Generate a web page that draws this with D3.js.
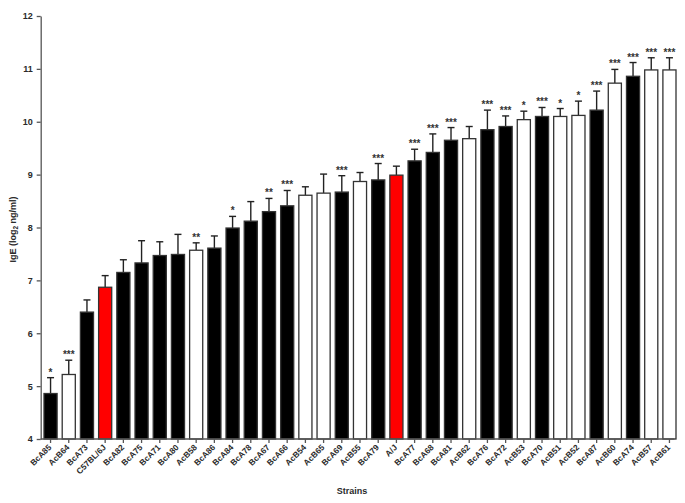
<!DOCTYPE html>
<html lang="en">
<head>
  <meta charset="UTF-8">
  <title>IgE by strain</title>
  <script src="https://d3js.org/d3.v7.min.js"></script>
  <style>
    body { margin: 0; background: #fff; font-family: "Liberation Sans", Arial, sans-serif; }
    .axis text { font-weight: bold; fill: #2a2a2a; }
    .axis line, .axis path { stroke: #555; stroke-width: 1.3px; }
  </style>
</head>
<body>
  <div id="chart"></div>
  <script>
    // strains, in plotted order
    const strains = ["BcA85", "AcB64", "BcA73", "C57BL/6J", "BcA82", "BcA75", "BcA71", "BcA80", "AcB58",
      "BcA86", "BcA84", "BcA78", "BcA67", "BcA66", "AcB54", "AcB65", "BcA69", "AcB55", "BcA79", "A/J",
      "BcA77", "BcA68", "BcA81", "AcB62", "BcA76", "BcA72", "AcB53", "BcA70", "AcB51", "AcB52", "BcA87",
      "AcB60", "BcA74", "AcB57", "AcB61"];
    // mean IgE (log2 ng/ml)
    const means = [4.86, 5.22, 6.40, 6.87, 7.15, 7.33, 7.47, 7.49, 7.57,
      7.61, 7.99, 8.12, 8.30, 8.41, 8.61, 8.65, 8.67, 8.87, 8.90, 8.99,
      9.26, 9.42, 9.65, 9.68, 9.85, 9.91, 10.04, 10.10, 10.10, 10.12, 10.22,
      10.73, 10.86, 10.98, 10.98];
    // upper end of error bar
    const errTops = [5.16, 5.49, 6.63, 7.09, 7.39, 7.75, 7.73, 7.87, 7.71,
      7.84, 8.21, 8.49, 8.55, 8.70, 8.77, 9.01, 8.98, 9.04, 9.21, 9.16,
      9.48, 9.77, 9.89, 9.91, 10.22, 10.11, 10.20, 10.27, 10.25, 10.39, 10.58,
      10.99, 11.12, 11.21, 11.21];
    const stars = ["*", "***", "", "", "", "", "", "", "**",
      "", "*", "", "**", "***", "", "", "***", "", "***", "",
      "***", "***", "***", "", "***", "***", "*", "***", "*", "*", "***",
      "***", "***", "***", "***"];
    const yTicks = [4, 5, 6, 7, 8, 9, 10, 11, 12];
    const parents = ["C57BL/6J", "A/J"];

    const width = 685, height = 503;
    const mLeft = 40.7, mRight = 674.5, mTop = 16, mBottom = 439;

    const svg = d3.select("#chart").append("svg")
      .attr("width", width).attr("height", height);

    const x = d3.scaleBand().domain(strains).range([44, 676]).paddingInner(0.28).paddingOuter(0);
    const y = d3.scaleLinear().domain([4, 12]).range([mBottom, mTop]);

    const data = strains.map((s, i) => ({ s, m: means[i], e: errTops[i], star: stars[i] }));

    function fillOf(s) {
      if (parents.includes(s)) return "#ff0000";
      return s.startsWith("Bc") ? "#000" : "#fff";
    }

    // error bars (upper only)
    const eb = svg.append("g").attr("stroke", "#222").attr("stroke-width", 1.4);
    data.forEach(d => {
      const cx = x(d.s) + x.bandwidth() / 2;
      eb.append("line").attr("x1", cx).attr("x2", cx).attr("y1", y(d.m)).attr("y2", y(d.e));
      eb.append("line").attr("x1", cx - 3.5).attr("x2", cx + 3.5).attr("y1", y(d.e)).attr("y2", y(d.e));
    });

    // bars
    svg.append("g").selectAll("rect")
      .data(data).enter().append("rect")
      .attr("x", d => x(d.s))
      .attr("y", d => y(d.m))
      .attr("width", x.bandwidth())
      .attr("height", d => y(4) - y(d.m))
      .attr("fill", d => fillOf(d.s))
      .attr("stroke", "#333")
      .attr("stroke-width", 1.3);

    // significance stars
    svg.append("g").selectAll("text")
      .data(data.filter(d => d.star)).enter().append("text")
      .attr("x", d => x(d.s) + x.bandwidth() / 2)
      .attr("y", d => y(d.e) - 2)
      .attr("text-anchor", "middle")
      .attr("font-size", 10)
      .attr("font-weight", "bold")
      .attr("fill", "#333")
      .text(d => d.star);

    // y axis
    const yAxis = svg.append("g").attr("class", "axis")
      .attr("transform", `translate(${mLeft},0)`)
      .call(d3.axisLeft(y).tickValues(yTicks).tickSize(4).tickSizeOuter(0).tickPadding(4));
    yAxis.selectAll("text").attr("font-size", 9);

    // x axis
    const xAxis = svg.append("g").attr("class", "axis")
      .attr("transform", `translate(0,${mBottom})`)
      .call(d3.axisBottom(x).tickSize(4).tickSizeOuter(0));
    xAxis.select(".domain").remove();
    xAxis.append("line").attr("x1", mLeft).attr("x2", mRight).attr("y1", 0).attr("y2", 0);
    xAxis.selectAll("text")
      .attr("font-size", 8.3)
      .attr("text-anchor", "end")
      .attr("dy", "0.35em")
      .attr("transform", "translate(0,2) rotate(-45)")
      .attr("x", -4)
      .attr("y", 3);

    // axis titles
    const yl = svg.append("text")
      .attr("transform", `translate(16,${(mTop + mBottom) / 2 + 2}) rotate(-90)`)
      .attr("text-anchor", "middle")
      .attr("font-size", 9)
      .attr("font-weight", "bold")
      .attr("fill", "#2a2a2a");
    yl.append("tspan").text("IgE (log");
    yl.append("tspan").attr("font-size", 6.5).attr("dy", 2).text("2");
    yl.append("tspan").attr("dy", -2).text(" ng/ml)");

    svg.append("text")
      .attr("x", 352).attr("y", 494)
      .attr("text-anchor", "middle")
      .attr("font-size", 9)
      .attr("font-weight", "bold")
      .attr("fill", "#2a2a2a")
      .text("Strains");
  </script>
</body>
</html>
